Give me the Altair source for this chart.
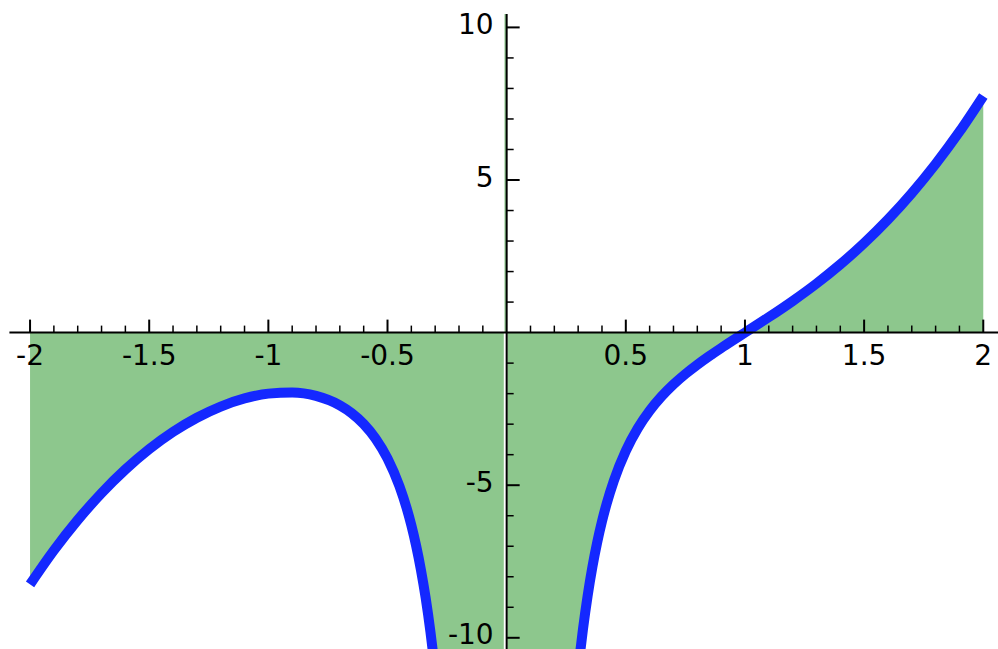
import altair as alt
import pandas as pd

# Curve samples, left of the pole
x_left = [-2.0, -1.9, -1.8, -1.7, -1.6, -1.5, -1.4, -1.3, -1.2, -1.1, -1.0,
          -0.9, -0.8, -0.7, -0.65, -0.6, -0.55, -0.5, -0.45, -0.42, -0.4,
          -0.38, -0.36, -0.34, -0.32, -0.31, -0.3, -0.28, -0.25, -0.2,
          -0.15, -0.1, -0.05, -0.02, -0.012]
y_left = [-8.25, -7.136, -6.141, -5.259, -4.487, -3.819, -3.254, -2.789,
          -2.422, -2.157, -2.0, -1.964, -2.075, -2.384, -2.641, -2.994,
          -3.472, -4.125, -5.029, -5.743, -6.314, -6.98, -7.763, -8.69,
          -9.798, -10.436, -11.138, -12.777, -16.016, -25.008, -44.448,
          -100.001, -400.0, -2500.0, -6944.4]

# Curve samples, right of the pole
x_right = [0.003, 0.02, 0.05, 0.1, 0.15, 0.2, 0.25, 0.28, 0.3, 0.31, 0.32,
           0.34, 0.36, 0.38, 0.4, 0.42, 0.45, 0.5, 0.55, 0.6, 0.65, 0.7,
           0.75, 0.8, 0.85, 0.9, 0.95, 1.0, 1.1, 1.2, 1.3, 1.4, 1.5, 1.6,
           1.7, 1.8, 1.9, 2.0]
y_right = [-111111.1, -2500.0, -400.0, -99.999, -44.441, -24.992, -15.984,
           -12.733, -11.084, -10.376, -9.733, -8.611, -7.669, -6.87, -6.186,
           -5.595, -4.847, -3.875, -3.139, -2.562, -2.092, -1.698, -1.356,
           -1.051, -0.77, -0.506, -0.251, 0.0, 0.505, 1.034, 1.605, 2.234,
           2.931, 3.705, 4.567, 5.523, 6.582, 7.75]

# Axis ticks and labels
x_major = [-2, -1.5, -1, -0.5, 0.5, 1, 1.5, 2]
x_labels = ["-2", "-1.5", "-1", "-0.5", "0.5", "1", "1.5", "2"]
x_minor = [-1.9, -1.8, -1.7, -1.6, -1.4, -1.3, -1.2, -1.1, -0.9, -0.8, -0.7,
           -0.6, -0.4, -0.3, -0.2, -0.1, 0.1, 0.2, 0.3, 0.4, 0.6, 0.7, 0.8,
           0.9, 1.1, 1.2, 1.3, 1.4, 1.6, 1.7, 1.8, 1.9]
y_major = [-10, -5, 5, 10]
y_labels = ["-10", "-5", "5", "10"]
y_minor = [-9, -8, -7, -6, -4, -3, -2, -1, 1, 2, 3, 4, 6, 7, 8, 9]

# View window and axis extents
X_DOMAIN = [-2.1261, 2.0618]
Y_DOMAIN = [-10.367, 10.898]
X_AXIS_START = -2.0866
Y_AXIS_TOP = 10.44

FILL = "#8dc78d"
BLUE = "#1428ff"
INK = "#000000"
FONT = "DejaVu Sans"

xs = alt.Scale(domain=X_DOMAIN, nice=False, zero=False)
ys = alt.Scale(domain=Y_DOMAIN, nice=False, zero=False)

curve = pd.concat([
    pd.DataFrame({"x": x_left, "y": y_left, "branch": "left"}),
    pd.DataFrame({"x": x_right, "y": y_right, "branch": "right"}),
])
curve["base"] = 0.0

X = lambda f: alt.X(f, type="quantitative", scale=xs, axis=None)
Y = lambda f: alt.Y(f, type="quantitative", scale=ys, axis=None)

area = alt.Chart(curve).mark_area(
    color=FILL, interpolate="monotone", clip=True
).encode(x=X("x"), y=Y("y"), y2="base:Q", detail="branch:N")

line = alt.Chart(curve).mark_line(
    color=BLUE, strokeWidth=10, interpolate="monotone", clip=True,
    strokeCap="butt"
).encode(x=X("x"), y=Y("y"), detail="branch:N", order="x:Q")

# thin fill seam along the pole above the x axis
seam = alt.Chart(pd.DataFrame({"x": [-0.006], "y": [0.0], "y2": [Y_AXIS_TOP]})).mark_rule(
    color=FILL, strokeWidth=1.5
).encode(x=X("x"), y=Y("y"), y2="y2:Q")

x_axis = alt.Chart(pd.DataFrame({"x": [X_AXIS_START], "x2": [X_DOMAIN[1]], "y": [0.0]})).mark_rule(
    color=INK, strokeWidth=2
).encode(x=X("x"), x2="x2:Q", y=Y("y"))

y_axis = alt.Chart(pd.DataFrame({"x": [0.0], "y": [Y_DOMAIN[0]], "y2": [Y_AXIS_TOP]})).mark_rule(
    color=INK, strokeWidth=2
).encode(x=X("x"), y=Y("y"), y2="y2:Q")

xt_major = alt.Chart(pd.DataFrame({"x": x_major, "y": 0.0})).mark_rule(
    color=INK, strokeWidth=2, y2Offset=-13
).encode(x=X("x"), y=Y("y"), y2="y:Q")

xt_minor = alt.Chart(pd.DataFrame({"x": x_minor, "y": 0.0})).mark_rule(
    color=INK, strokeWidth=1.5, y2Offset=-7
).encode(x=X("x"), y=Y("y"), y2="y:Q")

yt_major = alt.Chart(pd.DataFrame({"x": 0.0, "y": y_major})).mark_rule(
    color=INK, strokeWidth=2, x2Offset=13
).encode(x=X("x"), x2="x:Q", y=Y("y"))

yt_minor = alt.Chart(pd.DataFrame({"x": 0.0, "y": y_minor})).mark_rule(
    color=INK, strokeWidth=1.5, x2Offset=7
).encode(x=X("x"), x2="x:Q", y=Y("y"))

x_text = alt.Chart(pd.DataFrame({"x": x_major, "y": 0.0, "label": x_labels})).mark_text(
    font=FONT, fontSize=28, color=INK, align="center", baseline="middle", dy=24
).encode(x=X("x"), y=Y("y"), text="label:N")

y_text = alt.Chart(pd.DataFrame({"x": 0.0, "y": y_major, "label": y_labels})).mark_text(
    font=FONT, fontSize=28, color=INK, align="right", baseline="middle", dx=-13, dy=-1.5
).encode(x=X("x"), y=Y("y"), text="label:N")

chart = alt.layer(
    area, seam, line, x_axis, y_axis, xt_major, xt_minor, yt_major, yt_minor,
    x_text, y_text
).properties(
    width=998, height=649, padding=0, autosize=alt.AutoSizeParams(type="none"),
    background="white"
).configure_view(stroke=None)

chart.save("out.html", embed_options={"renderer": "svg", "actions": False})
